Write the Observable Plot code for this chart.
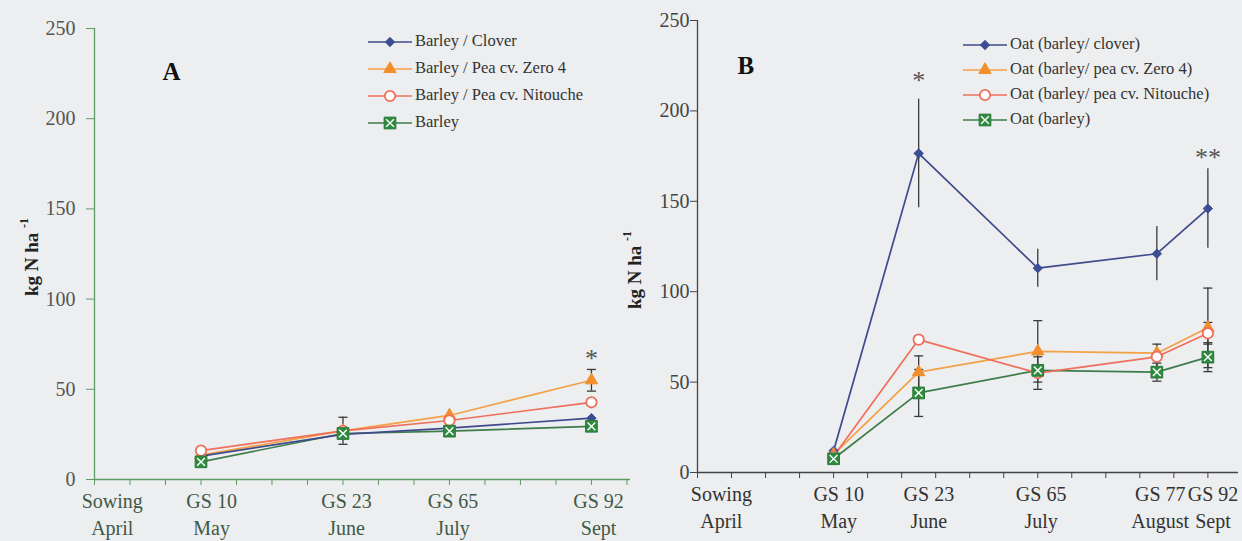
<!DOCTYPE html>
<html><head><meta charset="utf-8">
<script src="https://cdn.jsdelivr.net/npm/d3@7"></script>
<script src="https://cdn.jsdelivr.net/npm/@observablehq/plot@0.6"></script>
<style>
html,body{margin:0;padding:0;background:#eceef0;}
#wrap{position:relative;width:1242px;height:541px;overflow:hidden;font-family:"Liberation Serif","Times New Roman",serif;background:#eceef0;}
.panel{position:absolute;top:0;}
.legend{position:absolute;font-size:16.5px;color:#333;line-height:1;}
.legend .row{display:flex;align-items:center;white-space:nowrap;}
.ylab{position:absolute;font-weight:bold;font-size:19px;color:#222;transform:translate(-50%,-50%) rotate(-90deg);white-space:nowrap;}
.ylab sup{font-size:12px;position:relative;top:-2px;}
</style></head><body><div id="wrap"></div>
<script>
// ---------- Panel A data ----------
const stagesA = ["Sowing", "GS 10", "GS 23", "GS 65", "GS 92"];
const monthsA = ["April", "May", "June", "July", "Sept"];
const labelPosA = [0.5, 3.3, 7.1, 10.1, 14.2];
const xA = [3, 7, 10, 14];
const namesA = ["Barley / Clover", "Barley / Pea cv. Zero 4", "Barley / Pea cv. Nitouche", "Barley"];
const A_clover   = [13, 25, 28.5, 34];
const A_zero4    = [13.5, 27, 35.5, 55];
const A_nitouche = [16, 27, 32.7, 42.8];
const A_barley   = [9.8, 25.5, 26.8, 29.5];
const A_clover_err   = [null, null, null, null];
const A_zero4_err    = [null, 7.5, null, 6];
const A_nitouche_err = [null, null, null, null];
const A_barley_err   = [null, null, null, null];
const starsA = [{i: 3, s: 1, t: "*"}]; // index into xA, series index, text

// ---------- Panel B data ----------
const stagesB = ["Sowing", "GS 10", "GS 23", "GS 65", "GS 77", "GS 92"];
const monthsB = ["April", "May", "June", "July", "August", "Sept"];
const labelPosB = [0.7, 4.15, 6.8, 10.1, 13.6, 15.15];
const xB = [4, 6.5, 10, 13.5, 15];
const namesB = ["Oat (barley/ clover)", "Oat (barley/ pea cv. Zero 4)", "Oat (barley/ pea cv. Nitouche)", "Oat (barley)"];
const B_clover   = [12, 176.5, 113, 121, 146];
const B_zero4    = [10, 55.5, 67, 66, 80];
const B_nitouche = [9, 73.5, 55, 64, 77];
const B_barley   = [7.6, 44, 56.5, 55.5, 63.8];
const B_clover_err   = [null, 30, 10.5, 15, 22];
const B_zero4_err    = [null, 9, 17, null, 22];
const B_nitouche_err = [null, 2, 9, 7, 6];
const B_barley_err   = [null, 13, null, 5, 8];
const starsB = [{i: 1, s: 0, t: "*"}, {i: 4, s: 0, t: "**"}];

const yTicks = [0, 50, 100, 150, 200, 250];

// ---------- styles ----------
const seriesStyle = [
  {line: "#3f4a8c", symbol: "diamond2", fill: "#3b4e93", stroke: "#3b4e93", r: 4.2, caps: false},
  {line: "#f4a045", symbol: "triangle", fill: "#f28e2c", stroke: "#f28e2c", r: 4.6, caps: true},
  {line: "#ef6f5c", symbol: "circle", fill: "#ffffff", stroke: "#ef6f5c", r: 5.2, caps: true},
  {line: "#3e7d4b", symbol: "square", fill: "#2f8a40", stroke: "#2a7a38", r: 6.6, caps: true}
];
const capSymbol = {draw(ctx, size) { const w = 4.5; ctx.moveTo(-w, 0); ctx.lineTo(w, 0); }};

function buildRows(xs, vals, errs) {
  return vals.map((v, i) => ({x: xs[i], y: v, err: errs[i]}));
}

function makePanel(cfg) {
  const marks = [];
  const rows = cfg.series.map((s, k) => buildRows(cfg.xs, s.vals, s.errs));
  // axes frame
  marks.push(Plot.ruleY([0], {stroke: cfg.axisColor, strokeWidth: 1.3}));
  marks.push(Plot.ruleX([0], {stroke: cfg.axisColor, strokeWidth: 1.3}));
  marks.push(Plot.axisY({ticks: yTicks, tickSize: cfg.yTickSize, tickPadding: cfg.yTickPad, fontSize: 20, stroke: cfg.axisColor, fill: cfg.yTextColor, label: null}));
  marks.push(Plot.axisX({ticks: d3.range(0, cfg.nTicks), tickSize: 6, tickFormat: () => "", stroke: cfg.axisColor, label: null}));
  // x category labels (two lines)
  const lab = cfg.stages.map((s, i) => ({x: cfg.labelPos[i], s, m: cfg.months[i]}));
  marks.push(Plot.text(lab, {x: "x", y: () => 0, text: "s", dy: 22, fontSize: 20, fill: cfg.xTextColor}));
  marks.push(Plot.text(lab, {x: "x", y: () => 0, text: "m", dy: 49, fontSize: 20, fill: cfg.xTextColor}));
  // lines (draw order: barley, zero4, nitouche, clover)
  [3, 1, 2, 0].forEach(k => {
    marks.push(Plot.line(rows[k], {x: "x", y: "y", stroke: seriesStyle[k].line, strokeWidth: 1.7}));
  });
  // error bars
  rows.forEach((r, k) => {
    const e = r.filter(d => d.err != null);
    marks.push(Plot.ruleX(e, {x: "x", y1: d => d.y - d.err, y2: d => d.y + d.err, stroke: "#3a3a3a", strokeWidth: 1.3}));
    if (seriesStyle[k].caps) {
      marks.push(Plot.dot(e, {x: "x", y: d => d.y - d.err, symbol: capSymbol, stroke: "#3a3a3a", fill: "none", strokeWidth: 1.3, r: 3}));
      marks.push(Plot.dot(e, {x: "x", y: d => d.y + d.err, symbol: capSymbol, stroke: "#3a3a3a", fill: "none", strokeWidth: 1.3, r: 3}));
    }
  });
  // markers
  [0, 1, 2, 3].forEach(k => {
    const st = seriesStyle[k];
    marks.push(Plot.dot(rows[k], {x: "x", y: "y", symbol: st.symbol, r: st.r, fill: st.fill, stroke: st.stroke, strokeWidth: k === 2 ? 1.8 : 1}));
    if (k === 3) marks.push(Plot.dot(rows[k], {x: "x", y: "y", symbol: "times", r: 3.6, stroke: "#ffffff", strokeWidth: 1.4}));
  });
  // significance stars
  const st = cfg.stars.map((d, j) => {
    const r = rows[d.s][d.i];
    return {x: r.x, y: r.y + (r.err || 0), t: d.t, dy: cfg.starDy[j]};
  });
  st.forEach(s => marks.push(Plot.text([s], {x: "x", y: "y", text: "t", dy: s.dy, fontSize: 26, fill: "#555"})));
  // panel title
  marks.push(Plot.text([cfg.title], {frameAnchor: "top-left", dx: cfg.titleDx, dy: cfg.titleDy, fontSize: 25, fontWeight: "bold", fill: "#111"}));

  return Plot.plot({
    width: cfg.width, height: 541,
    marginLeft: cfg.ml, marginRight: cfg.mr, marginTop: cfg.mt, marginBottom: cfg.mb,
    x: {domain: [0, cfg.xmax], axis: null},
    y: {domain: [0, 250], axis: null},
    style: {background: "transparent", fontFamily: "'Liberation Serif','Times New Roman',serif", overflow: "visible"},
    marks
  });
}

const wrap = document.getElementById("wrap");

function addPanel(svg, left) {
  svg.classList.add("panel");
  svg.style.left = left + "px";
  wrap.appendChild(svg);
}

const panelA = makePanel({
  width: 640, ml: 94, mr: 10, mt: 28, mb: 62, xmax: 15.1, nTicks: 16,
  xs: xA, stages: stagesA, months: monthsA, labelPos: labelPosA,
  series: [
    {vals: A_clover, errs: A_clover_err},
    {vals: A_zero4, errs: A_zero4_err},
    {vals: A_nitouche, errs: A_nitouche_err},
    {vals: A_barley, errs: A_barley_err}
  ],
  stars: starsA, starDy: [-11],
  axisColor: "#5f9a63", yTextColor: "#555", xTextColor: "#3f5a46",
  yTickSize: 8, yTickPad: 11,
  title: "A", titleDx: 68, titleDy: 34
});
addPanel(panelA, 0);

const panelB = makePanel({
  width: 642, ml: 97, mr: 4, mt: 20, mb: 69, xmax: 15.9, nTicks: 16,
  xs: xB, stages: stagesB, months: monthsB, labelPos: labelPosB,
  series: [
    {vals: B_clover, errs: B_clover_err},
    {vals: B_zero4, errs: B_zero4_err},
    {vals: B_nitouche, errs: B_nitouche_err},
    {vals: B_barley, errs: B_barley_err}
  ],
  stars: starsB, starDy: [-18, -11],
  axisColor: "#444", yTextColor: "#444", xTextColor: "#333",
  yTickSize: 7, yTickPad: 1,
  title: "B", titleDx: 40, titleDy: 36
});
addPanel(panelB, 600);

// legends
function addLegend(names, left, top, rowH) {
  const div = document.createElement("div");
  div.className = "legend";
  div.style.left = left + "px";
  div.style.top = top + "px";
  names.forEach((n, k) => {
    const st = seriesStyle[k];
    const row = document.createElement("div");
    row.className = "row";
    row.style.height = rowH + "px";
    const svg = d3.create("svg").attr("width", 46).attr("height", 20).style("margin-right", "2px");
    svg.append("line").attr("x1", 1).attr("x2", 45).attr("y1", 10).attr("y2", 10).attr("stroke", st.line).attr("stroke-width", 1.7);
    const sym = {diamond2: d3.symbolDiamond2, triangle: d3.symbolTriangle, circle: d3.symbolCircle, square: d3.symbolSquare}[st.symbol];
    svg.append("path").attr("transform", "translate(23,10)").attr("d", d3.symbol(sym, Math.PI * st.r * st.r)())
      .attr("fill", st.fill).attr("stroke", st.stroke).attr("stroke-width", k === 2 ? 1.8 : 1);
    if (k === 3) svg.append("path").attr("transform", "translate(23,10)").attr("d", d3.symbol(d3.symbolTimes, Math.PI * 3.6 * 3.6)()).attr("stroke", "#fff").attr("fill", "none").attr("stroke-width", 1.4);
    row.appendChild(svg.node());
    const sp = document.createElement("span");
    sp.textContent = n;
    row.appendChild(sp);
    div.appendChild(row);
  });
  wrap.appendChild(div);
}
addLegend(namesA, 367, 28, 27);
addLegend(namesB, 962, 32, 25);

// y-axis titles
function addYLabel(x, y) {
  const d = document.createElement("div");
  d.className = "ylab";
  d.style.left = x + "px";
  d.style.top = y + "px";
  d.innerHTML = "kg N ha <sup>-1</sup>";
  wrap.appendChild(d);
}
addYLabel(31, 257);
addYLabel(634, 270);
</script>
</body></html>
